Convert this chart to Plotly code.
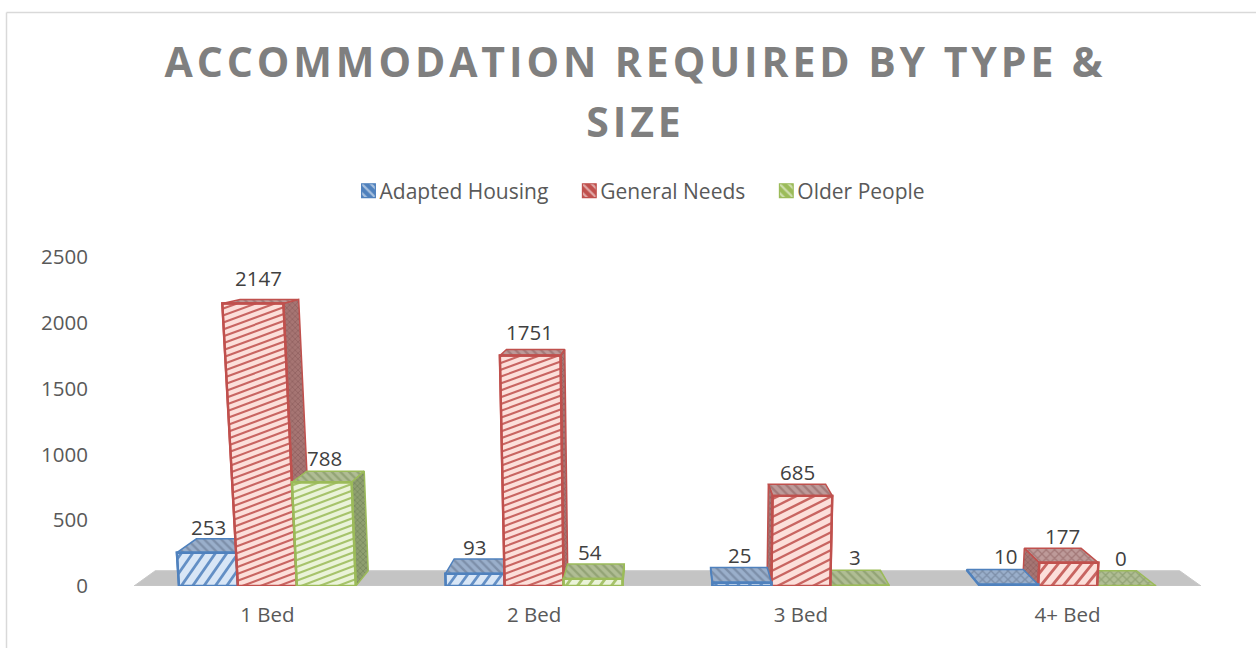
import plotly.graph_objects as go

categories = ["1 Bed", "2 Bed", "3 Bed", "4+ Bed"]
adapted_housing = [253, 93, 25, 10]
general_needs = [2147, 1751, 685, 177]
older_people = [788, 54, 3, 0]
y_ticks = [0, 500, 1000, 1500, 2000, 2500]
series_names = ["Adapted Housing", "General Needs", "Older People"]

series_values = [adapted_housing, general_needs, older_people]
COL = ["#4f81bd", "#c0504d", "#9bbb59"]
LIGHT = ["#d8e6f6", "#fcdfda", "#eaf3d8"]
TOP = ["#9aafcb", "#bd9a99", "#b0bd94"]
TOPFG = ["#5f6f88", "#8a5a5a", "#768a58"]
SIDE = ["#8d9db5", "#a67573", "#8f9f70"]
SIDEFG = ["#4c5f80", "#7a4a4a", "#5f7048"]

# label shifts in pixels relative to each bar's top (series, category)
LABEL_SHIFT = [
    [(0, 26), (-1, 27), (-2, 28), (-3, 29)],
    [(-9, 25), (-5, 24), (-3, 24), (-5, 27)],
    [(-2, 24), (-3, 27), (-5, 29), (-6, 28)],
]

# plot geometry
W, H = 1256, 648
L, R, T, B = 134, 1201, 257, 586
PX_X = (R - L) / 4.0
PX_Y = (B - T) / 2500.0
GAP = 0.337
BW = (1 - GAP) / 3
# perspective of the 3D look
VX, VY, DEPTH, K = 1.494, 2900.0, 0.96, 1.7e-5


def front(x, y):
    return VX + (x - VX) * (1 + K * y), y


def back(x, y):
    fx, fy = front(x, y)
    return VX + (fx - VX) * DEPTH, VY + (fy - VY) * DEPTH


def poly(points, fill, line, lw, pattern=None):
    xs = [p[0] for p in points] + [points[0][0]]
    ys = [p[1] for p in points] + [points[0][1]]
    kw = {}
    if pattern:
        kw["fillpattern"] = pattern
    return go.Scatter(x=xs, y=ys, mode="lines", fill="toself", fillcolor=fill,
                      line=dict(color=line, width=lw), showlegend=False,
                      hoverinfo="skip", cliponaxis=False, **kw)


def hatch(l, r, v, color):
    h_px = v * PX_Y
    if h_px < 60:
        rise, step, lw = 78.0, 15.0, 2.8
    elif h_px < 100:
        rise, step, lw = 30.0, 9.0, 2.4
    else:
        rise, step, lw = 22.0, 6.8, 2.1
    xs, ys = [], []
    a = -rise
    while a < h_px:
        u0 = 0.0 if a >= 0 else -a / rise
        u1 = 1.0 if a + rise <= h_px else (h_px - a) / rise
        if u1 > u0:
            for u in (u0, u1):
                yy = (a + rise * u) / PX_Y
                lx = front(l, yy)[0]
                rx = front(r, yy)[0]
                xs.append(lx + (rx - lx) * u)
                ys.append(yy)
            xs.append(None)
            ys.append(None)
        a += step
    return go.Scatter(x=xs, y=ys, mode="lines", line=dict(color=color, width=lw),
                      opacity=0.85, showlegend=False, hoverinfo="skip", cliponaxis=False)


fig = go.Figure()

# genuine bars: carry the values and legend, the perspective faces cover them
for s, name in enumerate(series_names):
    fig.add_trace(go.Bar(
        x=list(range(len(categories))), y=series_values[s], name=name,
        marker=dict(color=COL[s], line=dict(color=COL[s], width=1),
                    pattern=dict(shape="\\", fgcolor="#ffffff", bgcolor=COL[s],
                                 size=7, solidity=0.35)),
        hoverinfo="x+y+name", cliponaxis=False,
    ))

# floor
fl = [front(-0.5, 0), front(3.5, 0), back(3.5, 0), back(-0.5, 0)]
fig.add_trace(poly(fl, "#c4c4c4", "#c8c8c8", 1))

bars = []
for c in range(len(categories)):
    for s in range(3):
        center = c + (s - 1) * BW
        bars.append((abs(center - VX), center, s, c))
bars.sort(key=lambda b: -b[0])

for _, center, s, c in bars:
    v = series_values[s][c]
    l, r = center - BW / 2, center + BW / 2
    pat_top = dict(shape="x" if c == len(categories) - 1 else "\\",
                   fgcolor=TOPFG[s], bgcolor=TOP[s], size=6, solidity=0.4)
    pat_side = dict(shape="x", fgcolor=SIDEFG[s], bgcolor=SIDE[s], size=4, solidity=0.35)
    fig.add_trace(poly([front(l, v), front(r, v), back(r, v), back(l, v)],
                       TOP[s], COL[s], 1.5, pat_top))
    edge = r if r < VX else (l if l > VX else None)
    if edge is not None and v > 0:
        fig.add_trace(poly([front(edge, 0), front(edge, v), back(edge, v), back(edge, 0)],
                           SIDE[s], COL[s], 1.5, pat_side))
    if v > 0:
        fig.add_trace(poly([front(l, 0), front(r, 0), front(r, v), front(l, v)],
                           LIGHT[s], COL[s], 2.2))
        fig.add_trace(hatch(l, r, v, COL[s]))
        fig.add_trace(poly([front(l, 0), front(r, 0), front(r, v), front(l, v)],
                           "rgba(0,0,0,0)", COL[s], 2.4))
    else:
        fig.add_trace(go.Scatter(x=[front(l, 0)[0], front(r, 0)[0]], y=[0, 0], mode="lines",
                                 line=dict(color=COL[s], width=2.4), showlegend=False,
                                 hoverinfo="skip", cliponaxis=False))

annotations = []
for s in range(3):
    for c in range(len(categories)):
        dx, dy = LABEL_SHIFT[s][c]
        annotations.append(dict(
            x=c + (s - 1) * BW, y=series_values[s][c], xref="x", yref="y",
            text=str(series_values[s][c]), showarrow=False, xshift=dx, yshift=dy,
            xanchor="center", yanchor="middle",
            font=dict(family="Open Sans", size=20.5, color="#404040"),
        ))

# chart frame: only the top and left edges show in the picture
shapes = [
    dict(type="line", xref="paper", yref="paper",
         x0=(6.5 - L) / (R - L), x1=(W - L) / (R - L),
         y0=(B - 12.5) / (B - T), y1=(B - 12.5) / (B - T),
         line=dict(color="#d9d9d9", width=1.5)),
    dict(type="line", xref="paper", yref="paper",
         x0=(6.5 - L) / (R - L), x1=(6.5 - L) / (R - L),
         y0=(B - 12.5) / (B - T), y1=(B - H) / (B - T),
         line=dict(color="#d9d9d9", width=1.5)),
]

fig.update_layout(
    width=W, height=H, autosize=False,
    paper_bgcolor="#ffffff", plot_bgcolor="#ffffff",
    margin=dict(l=L, r=W - R, t=T, b=H - B, pad=0),
    barmode="group", bargap=GAP, bargroupgap=0,
    title=dict(text="ACCOMMODATION REQUIRED BY TYPE &<br>SIZE",
               x=635.5 / W, xref="container", xanchor="center",
               y=1 - 77 / H, yref="container", yanchor="top",
               font=dict(family="Open Sans", size=41, color="#7f7f7f", weight=700)),
    legend=dict(orientation="h", x=0.5, xref="container", xanchor="center",
                y=1 - 191 / H, yref="container", yanchor="middle",
                font=dict(family="Open Sans", size=21, color="#595959"),
                traceorder="normal", itemclick=False, itemdoubleclick=False),
    xaxis=dict(range=[-0.5, 3.5], tickvals=list(range(len(categories))), ticktext=categories,
               showgrid=False, zeroline=False, showline=False, ticks="", ticklabelstandoff=14,
               tickfont=dict(family="Open Sans", size=20.5, color="#595959")),
    yaxis=dict(range=[0, 2500], tickvals=y_ticks, showgrid=False, zeroline=False,
               showline=False, ticks="", ticklabelstandoff=45,
               tickfont=dict(family="Open Sans", size=20.5, color="#595959")),
    annotations=annotations, shapes=shapes,
)

post = """
document.documentElement.style.margin = '0';
document.body.style.margin = '0';
function tweak() {
  var gd = document.getElementById('{plot_id}');
  var t = gd.querySelector('.gtitle');
  if (t) {
    t.style.letterSpacing = '3.9px';
    var lines = t.querySelectorAll('tspan.line');
    if (lines.length > 1) { lines[1].setAttribute('dy', '60'); }
  }
  gd.querySelectorAll('.legend .scrollbox').forEach(function (g) {
    g.removeAttribute('clip-path');
    g.style.clipPath = 'none';
  });
  gd.querySelectorAll('.legend .legendpoints').forEach(function (g) {
    g.setAttribute('transform', 'translate(6,0) scale(1.15)');
  });
  gd.querySelectorAll('.legend .traces').forEach(function (g, i) {
    if (g.dataset.moved) { return; }
    g.dataset.moved = '1';
    var m = (g.getAttribute('transform') || '').match(/translate\\(([-\\d.]+)[ ,]+([-\\d.]+)\\)/);
    if (m) { g.setAttribute('transform', 'translate(' + (parseFloat(m[1]) + 7 * i) + ',' + m[2] + ')'); }
  });
}
setTimeout(tweak, 30); setTimeout(tweak, 300);
"""
fig.write_html("out.html", post_script=post, config={"displayModeBar": False})
